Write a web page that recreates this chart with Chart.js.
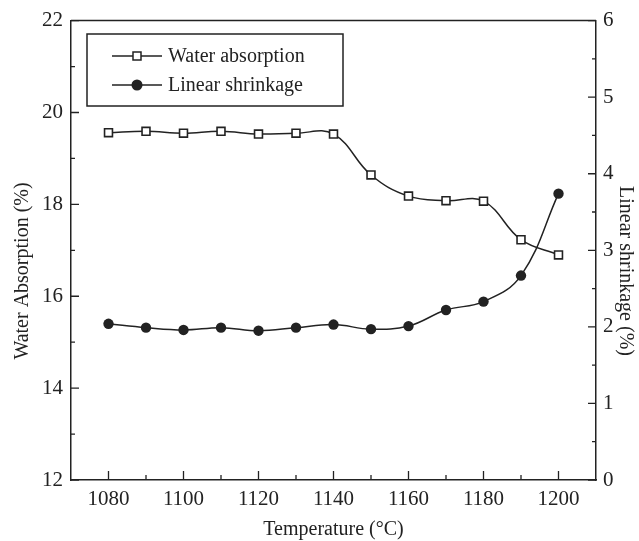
<!DOCTYPE html>
<html>
<head>
<meta charset="utf-8">
<script src="https://cdn.jsdelivr.net/npm/chart.js@4.4.0/dist/chart.umd.min.js"></script>
<style>
  html, body { margin: 0; padding: 0; background: #fff; }
  #wrap { width: 639px; height: 541px; }
</style>
</head>
<body>
<div id="wrap"><canvas id="chart"></canvas></div>
<script>
// temperatures (°C)
const temps = [1080, 1090, 1100, 1110, 1120, 1130, 1140, 1150, 1160, 1170, 1180, 1190, 1200];
// water absorption (%) - left axis
const waterAbs = [19.56, 19.59, 19.55, 19.59, 19.53, 19.55, 19.53, 18.64, 18.18, 18.08, 18.07, 17.23, 16.90];
// linear shrinkage (%) - right axis
const shrinkage = [2.04, 1.99, 1.96, 1.99, 1.95, 1.99, 2.03, 1.97, 2.01, 2.22, 2.33, 2.67, 3.74];

const xTicks = [1080, 1100, 1120, 1140, 1160, 1180, 1200];
const xMinor = [1090, 1110, 1130, 1150, 1170, 1190];
const leftTicks = [12, 14, 16, 18, 20, 22];
const leftMinor = [13, 15, 17, 19, 21];
const rightTicks = [0, 1, 2, 3, 4, 5, 6];
const rightMinor = [0.5, 1.5, 2.5, 3.5, 4.5, 5.5];

const ink = '#222';
const serif = "'Liberation Serif', 'DejaVu Serif', serif";

// inward ticks, top frame, y titles and legend
const decor = {
  id: 'decor',
  afterDraw(chart) {
    const ctx = chart.ctx;
    const a = chart.chartArea;
    const x = chart.scales.x, yl = chart.scales.y, yr = chart.scales.y1;
    ctx.save();
    ctx.strokeStyle = ink;
    ctx.lineWidth = 1.5;
    ctx.beginPath();
    ctx.moveTo(a.left, a.top);
    ctx.lineTo(a.right, a.top);
    ctx.stroke();

    ctx.lineWidth = 1.3;
    ctx.beginPath();
    xTicks.forEach(v => { const p = x.getPixelForValue(v); ctx.moveTo(p, a.bottom); ctx.lineTo(p, a.bottom - 9); });
    xMinor.forEach(v => { const p = x.getPixelForValue(v); ctx.moveTo(p, a.bottom); ctx.lineTo(p, a.bottom - 5); });
    leftTicks.forEach(v => { const p = yl.getPixelForValue(v); ctx.moveTo(a.left, p); ctx.lineTo(a.left + 8, p); });
    leftMinor.forEach(v => { const p = yl.getPixelForValue(v); ctx.moveTo(a.left, p); ctx.lineTo(a.left + 4, p); });
    rightTicks.forEach(v => { const p = yr.getPixelForValue(v); ctx.moveTo(a.right, p); ctx.lineTo(a.right - 8, p); });
    rightMinor.forEach(v => { const p = yr.getPixelForValue(v); ctx.moveTo(a.right, p); ctx.lineTo(a.right - 4, p); });
    ctx.stroke();

    // axis titles for y axes
    ctx.fillStyle = ink;
    ctx.font = '20px ' + serif;
    ctx.textAlign = 'center';
    ctx.textBaseline = 'middle';
    ctx.save();
    ctx.translate(23, 271);
    ctx.rotate(-Math.PI / 2);
    ctx.fillText('Water Absorption (%)', 0, 0);
    ctx.restore();
    ctx.save();
    ctx.translate(625, 271);
    ctx.rotate(Math.PI / 2);
    ctx.fillText('Linear shrinkage (%)', 0, 0);
    ctx.restore();

    // legend
    ctx.lineWidth = 1.5;
    ctx.strokeRect(87, 34, 256, 72);
    ctx.lineWidth = 1.3;
    [[56, 'Water absorption', 'rect'], [85, 'Linear shrinkage', 'circle']].forEach(([ly, label, kind]) => {
      ctx.beginPath();
      ctx.moveTo(112, ly); ctx.lineTo(162, ly);
      ctx.stroke();
      if (kind === 'rect') {
        ctx.fillStyle = '#fff';
        ctx.fillRect(133, ly - 4, 8, 8);
        ctx.lineWidth = 1.5;
        ctx.strokeRect(133, ly - 4, 8, 8);
        ctx.lineWidth = 1.3;
      } else {
        ctx.fillStyle = ink;
        ctx.beginPath();
        ctx.arc(137, ly, 5.5, 0, Math.PI * 2);
        ctx.fill();
      }
      ctx.fillStyle = ink;
      ctx.textAlign = 'left';
      ctx.font = '20px ' + serif;
      ctx.fillText(label, 168, ly + 1);
    });
    ctx.restore();
  }
};

new Chart(document.getElementById('chart'), {
  type: 'line',
  data: {
    datasets: [
      {
        label: 'Water absorption',
        data: temps.map((t, i) => ({ x: t, y: waterAbs[i] })),
        yAxisID: 'y',
        borderColor: ink,
        borderWidth: 1.5,
        pointStyle: 'rect',
        pointRadius: 5.6,
        pointBackgroundColor: '#fff',
        pointBorderColor: ink,
        pointBorderWidth: 1.6,
        tension: 0.4
      },
      {
        label: 'Linear shrinkage',
        data: temps.map((t, i) => ({ x: t, y: shrinkage[i] })),
        yAxisID: 'y1',
        borderColor: ink,
        borderWidth: 1.5,
        pointStyle: 'circle',
        pointRadius: 5.2,
        pointBackgroundColor: ink,
        pointBorderColor: ink,
        pointBorderWidth: 0,
        tension: 0.4
      }
    ]
  },
  options: {
    responsive: true,
    maintainAspectRatio: false,
    animation: false,
    layout: { padding: { top: 19, left: 0, right: 0, bottom: 0 } },
    plugins: { legend: { display: false }, tooltip: { enabled: false } },
    scales: {
      x: {
        type: 'linear',
        min: 1070,
        max: 1210,
        afterBuildTicks: s => { s.ticks = xTicks.map(v => ({ value: v })); },
        afterFit: s => { s.height = 61; },
        grid: { display: false, drawTicks: false },
        border: { display: true, color: ink, width: 1.5 },
        ticks: { color: ink, font: { family: serif, size: 21 }, padding: 7, maxRotation: 0, callback: v => String(v) },
        title: { display: true, text: 'Temperature (°C)', color: ink, font: { family: serif, size: 20 }, padding: { top: 0, bottom: -1 } }
      },
      y: {
        position: 'left',
        min: 12,
        max: 22,
        afterBuildTicks: s => { s.ticks = leftTicks.map(v => ({ value: v })); },
        afterFit: s => { s.width = 71; },
        grid: { display: false, drawTicks: false },
        border: { display: true, color: ink, width: 1.5 },
        ticks: { color: ink, font: { family: serif, size: 21 }, padding: 8, callback: v => String(v) }
      },
      y1: {
        position: 'right',
        min: 0,
        max: 6,
        afterBuildTicks: s => { s.ticks = rightTicks.map(v => ({ value: v })); },
        afterFit: s => { s.width = 43; },
        grid: { display: false, drawTicks: false },
        border: { display: true, color: ink, width: 1.5 },
        ticks: { color: ink, font: { family: serif, size: 21 }, padding: 7, callback: v => String(v) }
      }
    }
  },
  plugins: [decor]
});
</script>
</body>
</html>
